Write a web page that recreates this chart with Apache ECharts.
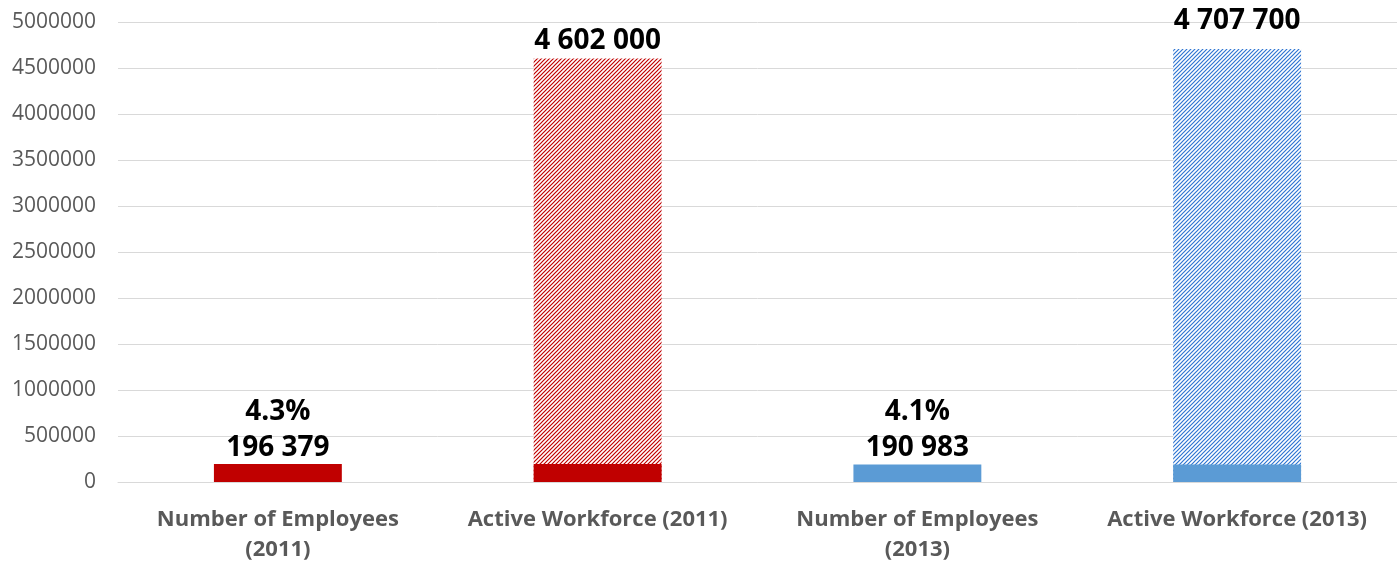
<!DOCTYPE html>
<html>
<head>
    <meta charset="UTF-8">
    <title>Employees vs Active Workforce</title>
    <script src="https://cdn.jsdelivr.net/npm/echarts@6/dist/echarts.min.js"></script>
    <style>
        html, body { margin: 0; padding: 0; background: #fff; }
        #chart { width: 1397px; height: 561px; }
    </style>
</head>
<body>
<div id="chart"></div>
<script>
    // data
    var categories = ['Number of Employees\n(2011)', 'Active Workforce (2011)', 'Number of Employees\n(2013)', 'Active Workforce (2013)'];
    var employees = [196379, 196379, 190983, 190983];      // solid part, shown in every column
    var workforce = [null, 4602000, null, 4707700];        // hatched total bars
    var shareLabels = ['4.3%', '', '4.1%', ''];
    var valueLabels = ['196 379', '4 602 000', '190 983', '4 707 700'];
    var yTicks = { min: 0, max: 5000000, interval: 500000 };

    var RED = '#C00000', BLUE = '#5B9BD5', BLUE_HATCH = '#2E75D2';

    // small diagonal hatch tile
    function hatch(color) {
        var c = document.createElement('canvas');
        c.width = 4; c.height = 4;
        var ctx = c.getContext('2d');
        ctx.fillStyle = '#fff';
        ctx.fillRect(0, 0, 4, 4);
        ctx.strokeStyle = color;
        ctx.lineWidth = 1.2;
        ctx.beginPath();
        ctx.moveTo(-1, 5); ctx.lineTo(5, -1);
        ctx.moveTo(-1, 1); ctx.lineTo(1, -1);
        ctx.moveTo(3, 5); ctx.lineTo(5, 3);
        ctx.stroke();
        return { image: c, repeat: 'repeat' };
    }

    var solidColors = [RED, RED, BLUE, BLUE];
    var hatchColors = [hatch(RED), hatch(RED), hatch(BLUE_HATCH), hatch(BLUE_HATCH)];

    var labelFont = { fontFamily: 'Open Sans', fontWeight: 'bold', fontSize: 28, color: '#000' };

    var hatchData = workforce.map(function (v, i) {
        if (v == null) return null;
        return {
            value: v,
            itemStyle: { color: hatchColors[i] },
            label: {
                show: true, position: 'top',
                distance: i === 3 ? 14 : 4,
                formatter: valueLabels[i]
            }
        };
    });

    var solidData = employees.map(function (v, i) {
        var isEmp = workforce[i] == null;
        return {
            value: v,
            itemStyle: { color: solidColors[i] },
            label: {
                show: isEmp, position: 'top', distance: -2,
                formatter: shareLabels[i] + '\n' + valueLabels[i],
                lineHeight: 36
            }
        };
    });

    var chart = echarts.init(document.getElementById('chart'));
    chart.setOption({
        animation: false,
        grid: { left: 118, right: 0, top: 22, bottom: 79, containLabel: false, outerBoundsMode: 'none' },
        xAxis: {
            type: 'category',
            data: categories,
            axisLine: { lineStyle: { color: '#d9d9d9', width: 1 } },
            axisTick: { show: false },
            axisLabel: {
                interval: 0, margin: 23,
                fontFamily: 'Open Sans', fontWeight: 'bold', fontSize: 22,
                color: '#595959', lineHeight: 30
            }
        },
        yAxis: {
            type: 'value',
            min: yTicks.min, max: yTicks.max, interval: yTicks.interval,
            axisLine: { show: false },
            axisTick: { show: false },
            splitLine: { lineStyle: { color: '#d9d9d9', width: 1 } },
            axisLabel: {
                margin: 22,
                fontFamily: 'Open Sans', fontSize: 21, color: '#595959',
                formatter: function (v) { return String(v); }
            }
        },
        series: [
            {
                name: 'Active Workforce',
                type: 'bar',
                barWidth: '40%',
                data: hatchData,
                label: labelFont
            },
            {
                name: 'Employees',
                type: 'bar',
                barWidth: '40%',
                barGap: '-100%',
                data: solidData,
                label: labelFont
            }
        ]
    });
</script>
</body>
</html>
